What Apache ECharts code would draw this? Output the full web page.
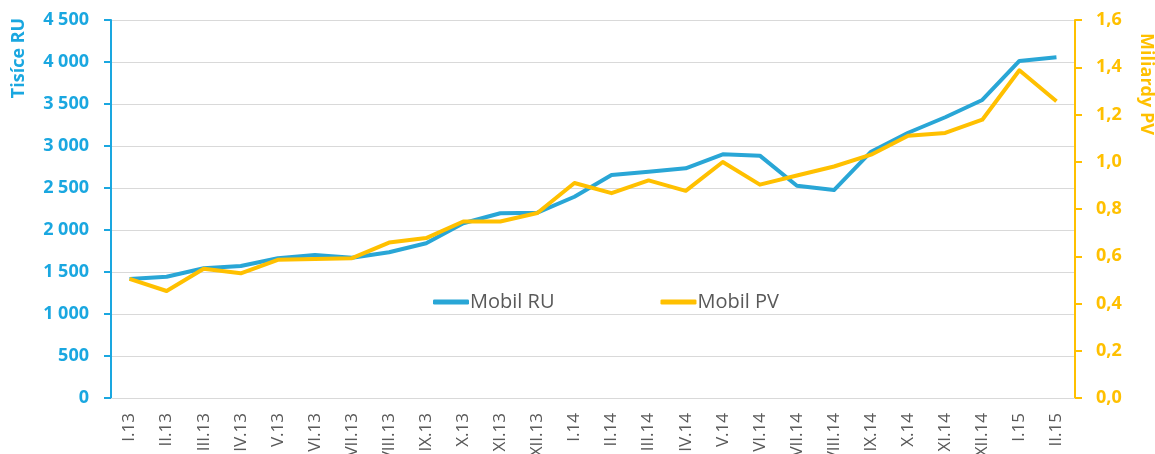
<!DOCTYPE html>
<html lang="cs">
<head>
    <meta charset="UTF-8">
    <title>Mobil RU / Mobil PV</title>
    <script src="https://cdn.jsdelivr.net/npm/echarts@6/dist/echarts.min.js"></script>
    <style>
        html, body { margin: 0; padding: 0; background: #fff; }
    </style>
</head>
<body>
<div id="main" style="width: 1155px;height:454px;"></div>
<script>
    // mesice
    var months = ['I.13', 'II.13', 'III.13', 'IV.13', 'V.13', 'VI.13', 'VII.13', 'VIII.13', 'IX.13', 'X.13', 'XI.13', 'XII.13',
        'I.14', 'II.14', 'III.14', 'IV.14', 'V.14', 'VI.14', 'VII.14', 'VIII.14', 'IX.14', 'X.14', 'XI.14', 'XII.14',
        'I.15', 'II.15'];
    // tisice RU (leva osa)
    var mobilRU = [1417, 1444, 1545, 1571, 1663, 1702, 1670, 1735, 1842, 2080, 2199, 2206,
        2396, 2655, 2694, 2735, 2901, 2885, 2527, 2476, 2932, 3158, 3342, 3548, 4012, 4056];
    // miliardy PV (prava osa)
    var mobilPV = [0.504, 0.453, 0.547, 0.528, 0.585, 0.588, 0.592, 0.658, 0.677, 0.747, 0.747, 0.783,
        0.910, 0.867, 0.921, 0.877, 0.999, 0.903, 0.942, 0.980, 1.030, 1.110, 1.122, 1.178, 1.387, 1.256];

    var blue = '#29a6d6';
    var blueAxis = '#1aa7e0';
    var yellow = '#ffc000';
    var font = 'Open Sans';

    var myChart = echarts.init(document.getElementById('main'));

    var option = {
        animation: false,
        textStyle: { fontFamily: font },
        grid: { left: 111, right: 80, top: 20, bottom: 56, outerBoundsMode: 'none', containLabel: false },
        legend: {
            data: ['Mobil RU', 'Mobil PV'],
            left: 433,
            top: 292,
            padding: 0,
            itemWidth: 36,
            itemHeight: 5,
            itemGap: 106,
            icon: 'roundRect',
            textStyle: { fontSize: 20, color: '#595959', fontFamily: font, padding: [0, 0, 0, -4] }
        },
        xAxis: {
            type: 'category',
            data: months,
            axisLine: { lineStyle: { color: '#d9d9d9', width: 1 } },
            axisTick: { show: false },
            axisLabel: { rotate: 90, interval: 0, color: '#595959', fontSize: 17, margin: 15 }
        },
        yAxis: [
            {
                type: 'value',
                min: 0,
                max: 4500,
                interval: 500,
                axisLine: { show: true, lineStyle: { color: blueAxis, width: 2 } },
                axisTick: { show: true, inside: false, length: 7, lineStyle: { color: blueAxis, width: 2 } },
                splitLine: { lineStyle: { color: '#d9d9d9', width: 1 } },
                axisLabel: {
                    color: blueAxis, fontSize: 18, fontWeight: 'bold', margin: 22,
                    formatter: function (v) {
                        return String(v).replace(/\B(?=(\d{3})+(?!\d))/g, ' ');
                    }
                }
            },
            {
                type: 'value',
                min: 0,
                max: 1.6,
                interval: 0.2,
                axisLine: { show: true, lineStyle: { color: yellow, width: 2 } },
                axisTick: { show: true, length: 7, lineStyle: { color: yellow, width: 2 } },
                splitLine: { show: false },
                axisLabel: {
                    color: yellow, fontSize: 18, fontWeight: 'bold', margin: 21,
                    formatter: function (v) {
                        return v.toFixed(1).replace('.', ',');
                    }
                }
            }
        ],
        graphic: [
            {
                type: 'text',
                x: 19, y: 58,
                rotation: Math.PI / 2,
                style: {
                    text: 'Tisíce RU', fill: blueAxis, font: 'bold 18px "Open Sans"',
                    align: 'center', verticalAlign: 'middle'
                }
            },
            {
                type: 'text',
                x: 1146, y: 84,
                rotation: -Math.PI / 2,
                style: {
                    text: 'Miliardy PV', fill: yellow, font: 'bold 18px "Open Sans"',
                    align: 'center', verticalAlign: 'middle'
                }
            }
        ],
        series: [
            {
                name: 'Mobil RU',
                type: 'line',
                data: mobilRU,
                yAxisIndex: 0,
                showSymbol: false,
                lineStyle: { color: blue, width: 4, join: 'round' },
                itemStyle: { color: blue }
            },
            {
                name: 'Mobil PV',
                type: 'line',
                data: mobilPV,
                yAxisIndex: 1,
                showSymbol: false,
                lineStyle: { color: yellow, width: 4, join: 'round' },
                itemStyle: { color: yellow }
            }
        ]
    };

    myChart.setOption(option);
</script>
</body>
</html>
